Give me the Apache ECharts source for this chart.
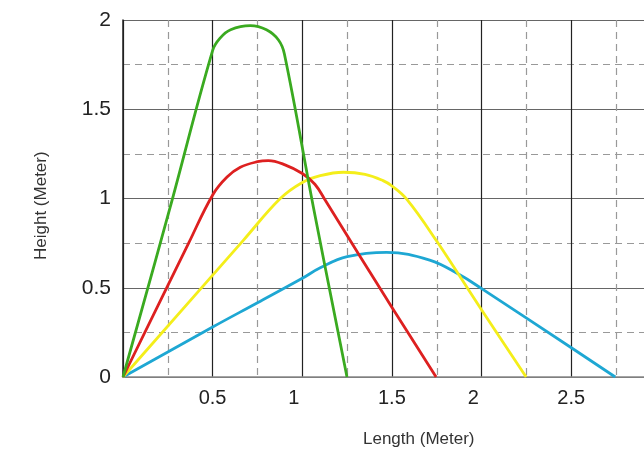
<!DOCTYPE html>
<html>
<head>
<meta charset="utf-8">
<script src="https://cdn.jsdelivr.net/npm/echarts@6/dist/echarts.min.js"></script>
<style>
html,body{margin:0;padding:0;background:#fff;}
#chart{width:644px;height:458px;}
</style>
</head>
<body>
<div id="chart"></div>
<script>
// Data: [length (m), height (m)]
const greenData = [[0,0],[0.26,0.94],[0.5,1.83],[0.54,1.897],[0.6,1.945],[0.71,1.968],[0.8,1.945],[0.867,1.888],[0.9,1.81],[1.062,0.95],[1.249,0]];
const redData = [[0,0],[0.366,0.75],[0.5,1.02],[0.58,1.12],[0.654,1.175],[0.75,1.206],[0.81,1.212],[0.9,1.19],[1.0,1.14],[1.07,1.08],[1.128,0.99],[1.323,0.674],[1.5,0.39],[1.746,0]];
const yellowData = [[0,0],[0.672,0.767],[0.877,1.0],[1.0,1.09],[1.1,1.128],[1.23,1.147],[1.35,1.135],[1.45,1.1],[1.5,1.07],[1.583,0.995],[1.75,0.76],[2.0,0.375],[2.248,0]];
const blueData = [[0,0],[0.5,0.28],[0.75,0.416],[1.0,0.553],[1.1,0.612],[1.25,0.674],[1.47,0.698],[1.71,0.655],[1.88,0.571],[2.0,0.495],[2.5,0.164],[2.745,0]];
const xTickLabels = ['', '0.5', '1', '1.5', '2', '2.5', ''];
const yTickLabels = ['0', '0.5', '1', '1.5', '2'];
const xTitle = 'Length (Meter)';
const yTitle = 'Height (Meter)';

const FONT = '"Liberation Sans", Arial, sans-serif';
const chart = echarts.init(document.getElementById('chart'), null, {renderer: 'canvas'});

function mkSeries(data, color) {
  return {
    type: 'line', data: data, smooth: 0.4, showSymbol: false, symbol: 'none',
    lineStyle: {color: color, width: 2.8}, z: 5, animation: false
  };
}

chart.setOption({
  animation: false,
  backgroundColor: '#ffffff',
  grid: {left: 123, top: 20, width: 538, height: 357, containLabel: false, outerBoundsMode: 'none'},
  xAxis: {
    type: 'value', min: 0, max: 3, interval: 0.5,
    axisLine: {show: true, lineStyle: {color: '#888', width: 1.5}},
    axisTick: {show: false},
    splitLine: {show: true, lineStyle: {color: '#222', width: 1.2}},
    minorTick: {show: false, splitNumber: 2},
    minorSplitLine: {show: true, lineStyle: {color: '#999', width: 1.2, type: [7, 5]}},
    axisLabel: {
      margin: 11, color: '#222', fontFamily: FONT, fontSize: 20,
      formatter: function (v) { const s = xTickLabels[Math.round(v / 0.5)]; return s ? '{a|' + s + '}' : ''; },
      rich: {a: {width: 28, align: 'left', fontFamily: FONT, fontSize: 20, color: '#222'}}
    }
  },
  yAxis: {
    type: 'value', min: 0, max: 2, interval: 0.5,
    axisLine: {show: true, lineStyle: {color: '#222', width: 1.5}},
    axisTick: {show: false},
    splitLine: {show: true, lineStyle: {color: '#666', width: 1.2}},
    minorTick: {show: false, splitNumber: 2},
    minorSplitLine: {show: true, lineStyle: {color: '#999', width: 1.2, type: [7, 5]}},
    axisLabel: {
      margin: 12, color: '#222', fontFamily: FONT, fontSize: 21,
      formatter: function (v) { return yTickLabels[Math.round(v / 0.5)]; }
    }
  },
  graphic: [
    {type: 'text', left: 363, top: 431, style: {text: xTitle, fontFamily: FONT, fontSize: 17, fill: '#333'}},
    {type: 'text', x: 33, y: 260, rotation: Math.PI / 2, style: {text: yTitle, fontFamily: FONT, fontSize: 17, fill: '#333'}}
  ],
  series: [
    mkSeries(blueData, '#1ea7d3'),
    mkSeries(yellowData, '#f4ee1a'),
    mkSeries(redData, '#dd2020'),
    mkSeries(greenData, '#3aaa20')
  ]
});
</script>
</body>
</html>
